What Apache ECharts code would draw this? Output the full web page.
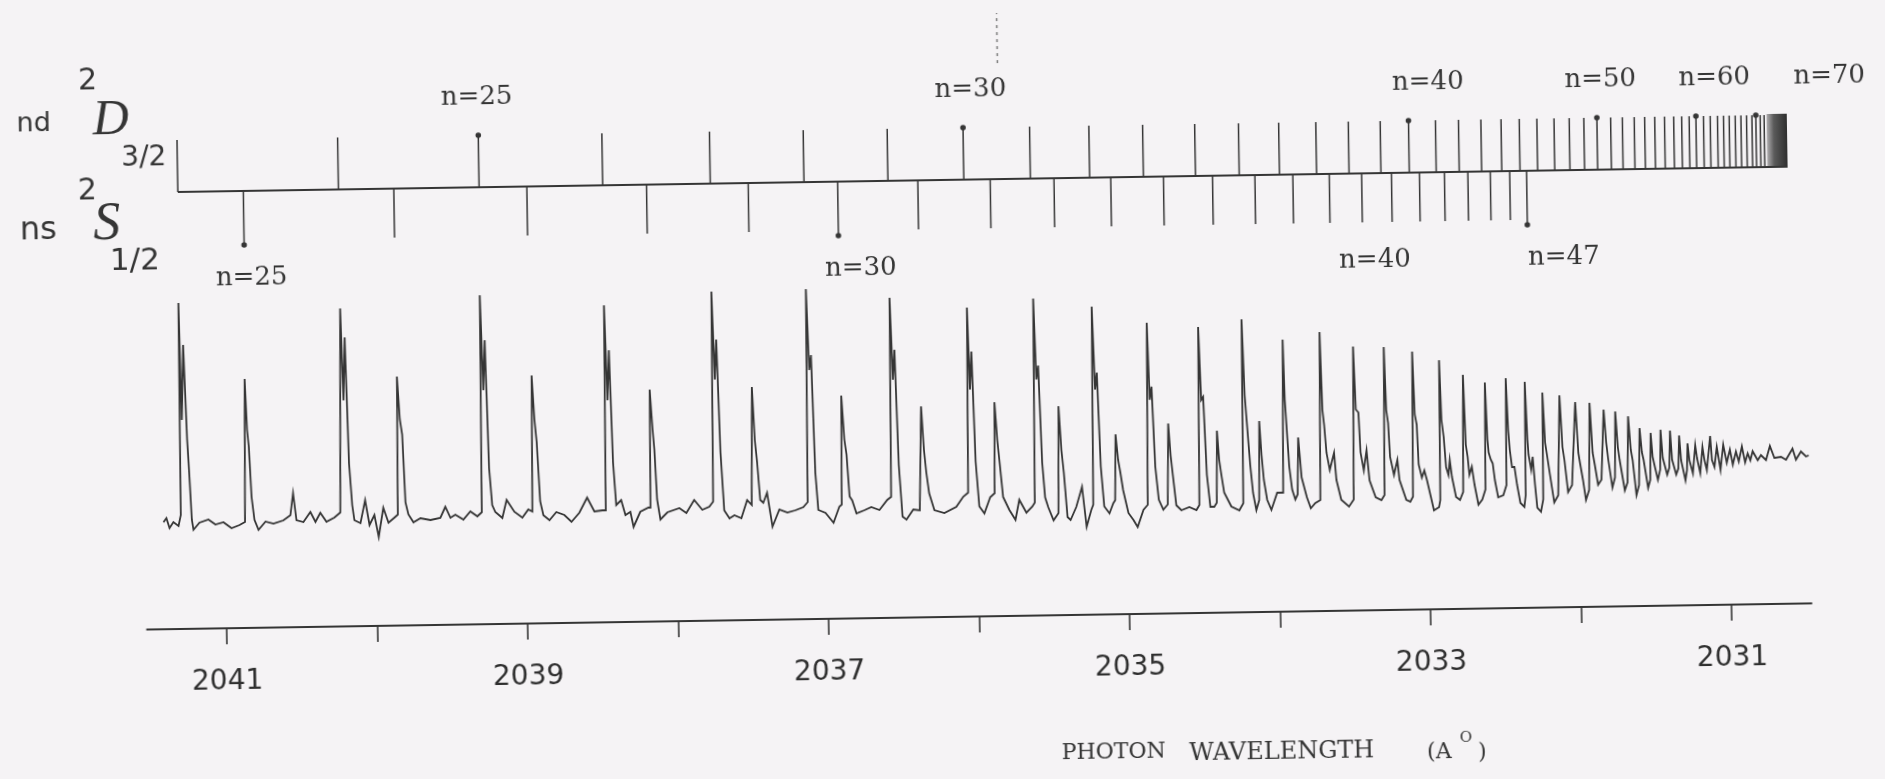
<!DOCTYPE html>
<html>
<head>
<meta charset="utf-8">
<script src="https://cdn.jsdelivr.net/npm/echarts@6/dist/echarts.min.js"></script>
<style>
html,body{margin:0;padding:0;background:#f5f3f5;overflow:hidden;}
#chart{width:1885px;height:779px;transform:rotate(-0.9deg);transform-origin:50% 50%;}
</style>
</head>
<body>
<div id="chart"></div>
<script>
// ---------------- data ----------------
// nd 2D3/2 Rydberg series: principal quantum number and line wavelength (Å)
const ndN = [23,24,25,26,27,28,29,30,31,32,33,34,35,36,37,38,39,40,41,42,43,44,45,46,47,48,49,50,
             51,52,53,54,55,56,57,58,59,60,61,62,63,64,65,66,67,68,69,70,71,72];
const ndWavelength = [2041.280,2040.213,2039.278,2038.457,2037.742,2037.119,2036.561,2036.057,2035.615,2035.221,
  2034.864,2034.518,2034.227,2033.960,2033.713,2033.497,2033.285,2033.097,2032.918,2032.765,
  2032.616,2032.482,2032.361,2032.244,2032.130,2032.029,2031.932,2031.845,2031.754,2031.676,
  2031.597,2031.528,2031.461,2031.396,2031.335,2031.282,2031.232,2031.187,2031.137,2031.092,
  2031.044,2031.004,2030.966,2030.926,2030.888,2030.851,2030.815,2030.789,2030.760,2030.734];
// unresolved tail of the nd series (start, end wavelength)
const ndTail = [2030.718, 2030.583];
const ndLabeled = [25,30,40,50,60,70];

// ns 2S1/2 Rydberg series
const nsN = [25,26,27,28,29,30,31,32,33,34,35,36,37,38,39,40,41,42,43,44,45,46,47];
const nsWavelength = [2040.845,2039.845,2038.961,2038.166,2037.490,2036.896,2036.363,2035.882,2035.458,2035.081,
  2034.731,2034.405,2034.123,2033.871,2033.629,2033.414,2033.216,2033.030,2032.864,2032.708,
  2032.559,2032.430,2032.318];
const nsLabeled = [25,30,40,47];

// dotted reference mark above the level diagram: wavelength, from, to
const referenceMark = [2035.822, 116, 166];

// axis ticks / labels (Å)
const axisTickValues = [2031,2032,2033,2034,2035,2036,2037,2038,2039,2040,2041];
const axisLabelValues = [2031,2033,2035,2037,2039,2041];

// photoion spectrum trace: [wavelength Å, signal (arb. units)]
const spectrum = [
[2041.410,107],[2041.390,111],[2041.370,101],[2041.344,107],[2041.310,103],[2041.294,114],[2041.288,326],[2041.277,209],[2041.261,284],[2041.244,189],[2041.234,157],[2041.221,109],[2041.211,99],[2041.171,106],[2041.111,109],[2041.065,104],[2041.011,106],[2040.958,100],[2040.905,103],[2040.868,106],
[2040.856,249],[2040.845,198],[2040.835,181],[2040.822,131],[2040.805,108],[2040.779,98],[2040.732,106],[2040.679,104],[2040.613,107],[2040.566,112],[2040.546,134],[2040.526,107],[2040.480,105],[2040.433,115],[2040.400,105],[2040.367,114],[2040.327,105],[2040.274,109],[2040.234,114],[2040.221,112],
[2040.214,318],[2040.201,226],[2040.187,289],[2040.171,163],[2040.154,121],[2040.141,106],[2040.101,103],[2040.068,126],[2040.041,101],[2040.008,111],[2039.981,89],[2039.948,118],[2039.915,103],[2039.875,108],[2039.852,111],
[2039.844,249],[2039.829,206],[2039.815,191],[2039.800,123],[2039.782,111],[2039.749,103],[2039.702,107],[2039.636,105],[2039.570,107],[2039.536,118],[2039.503,107],[2039.470,110],[2039.417,105],[2039.370,113],[2039.324,108],[2039.294,112],
[2039.285,329],[2039.271,234],[2039.257,284],[2039.241,156],[2039.224,119],[2039.204,112],[2039.158,106],[2039.128,124],[2039.078,112],[2039.025,106],[2038.985,114],[2038.958,112],
[2038.949,248],[2038.935,204],[2038.922,181],[2038.905,122],[2038.885,108],[2038.845,103],[2038.799,111],[2038.746,108],[2038.699,101],[2038.646,110],[2038.593,125],[2038.546,111],[2038.493,112],[2038.470,112],
[2038.461,317],[2038.447,222],[2038.433,272],[2038.417,160],[2038.400,117],[2038.367,122],[2038.340,107],[2038.307,110],[2038.287,95],[2038.241,110],[2038.187,114],[2038.173,114],
[2038.166,232],[2038.151,192],[2038.141,172],[2038.128,122],[2038.108,102],[2038.061,109],[2037.981,113],[2037.935,108],[2037.882,121],[2037.829,111],[2037.782,114],[2037.756,119],
[2037.746,329],[2037.732,241],[2037.719,281],[2037.702,168],[2037.683,110],[2037.649,102],[2037.616,105],[2037.570,102],[2037.530,120],[2037.500,115],
[2037.487,233],[2037.473,180],[2037.460,158],[2037.443,120],[2037.423,117],[2037.397,127],[2037.364,93],[2037.317,110],[2037.264,107],[2037.211,109],[2037.158,112],[2037.128,117],
[2037.118,330],[2037.104,249],[2037.091,264],[2037.074,146],[2037.058,109],[2037.011,106],[2036.958,96],[2036.918,112],[2036.902,114],
[2036.894,223],[2036.878,179],[2036.865,164],[2036.849,122],[2036.832,118],[2036.805,105],[2036.752,108],[2036.706,111],[2036.652,108],[2036.599,118],[2036.573,121],
[2036.563,320],[2036.549,238],[2036.536,268],[2036.519,153],[2036.499,101],[2036.473,98],[2036.427,108],[2036.384,107],
[2036.365,211],[2036.350,167],[2036.337,145],[2036.320,124],[2036.287,107],[2036.221,104],[2036.141,110],[2036.094,120],[2036.061,124],
[2036.050,309],[2036.038,227],[2036.025,265],[2036.008,155],[2035.988,110],[2035.955,103],[2035.915,119],[2035.885,123],
[2035.877,214],[2035.862,176],[2035.849,154],[2035.829,119],[2035.789,106],[2035.749,96],[2035.722,116],[2035.676,103],[2035.636,109],[2035.619,113],
[2035.609,317],[2035.596,236],[2035.583,250],[2035.566,153],[2035.550,118],[2035.530,108],[2035.496,95],[2035.463,102],
[2035.452,209],[2035.437,165],[2035.423,142],[2035.403,98],[2035.383,95],[2035.344,108],[2035.304,128],[2035.277,88],[2035.244,105],[2035.231,110],
[2035.221,308],[2035.207,225],[2035.194,242],[2035.177,148],[2035.158,108],[2035.124,101],[2035.098,111],[2035.085,114],
[2035.076,180],[2035.061,154],[2035.048,142],[2035.031,124],[2034.998,101],[2034.965,94],[2034.938,87],[2034.898,104],[2034.869,109],
[2034.857,291],[2034.845,214],[2034.832,227],[2034.815,147],[2034.795,114],[2034.766,104],[2034.736,109],
[2034.725,190],[2034.712,158],[2034.699,138],[2034.679,108],[2034.646,103],[2034.593,106],[2034.546,103],[2034.526,108],
[2034.516,286],[2034.503,213],[2034.490,216],[2034.473,138],[2034.453,106],[2034.427,106],[2034.410,110],
[2034.402,182],[2034.390,153],[2034.377,138],[2034.360,120],[2034.314,106],[2034.261,102],[2034.234,109],
[2034.227,293],[2034.214,217],[2034.201,215],[2034.184,147],[2034.168,119],[2034.148,102],[2034.128,112],
[2034.120,191],[2034.108,157],[2034.095,132],[2034.075,112],[2034.048,102],[2034.008,119],[2033.968,119],
[2033.956,272],[2033.948,212],[2033.939,214],[2033.925,145],[2033.908,122],[2033.888,112],[2033.872,117],
[2033.863,174],[2033.852,151],[2033.844,134],[2033.811,114],[2033.786,103],[2033.756,108],[2033.722,111],
[2033.710,279],[2033.699,201],[2033.689,186],[2033.676,158],[2033.656,141],[2033.626,158],[2033.613,131],[2033.583,111],[2033.532,104],[2033.500,111],
[2033.489,264],[2033.477,201],[2033.460,198],[2033.450,158],[2033.430,140],[2033.410,160],[2033.393,130],[2033.354,113],[2033.316,110],[2033.295,115],
[2033.285,263],[2033.275,200],[2033.264,187],[2033.254,153],[2033.230,135],[2033.206,150],[2033.194,130],[2033.151,110],[2033.124,108],[2033.106,113],
[2033.097,258],[2033.086,195],[2033.074,185],[2033.065,145],[2033.045,132],[2033.028,139],[2033.011,129],[2032.968,99],[2032.934,102],[2032.925,109],
[2032.919,249],[2032.909,189],[2032.896,172],[2032.883,142],[2032.868,134],[2032.858,149],[2032.845,132],[2032.820,112],[2032.794,109],[2032.772,117],
[2032.762,234],[2032.750,164],[2032.739,152],[2032.729,134],[2032.712,142],[2032.696,124],[2032.672,104],[2032.646,109],[2032.624,119],
[2032.617,226],[2032.606,169],[2032.599,156],[2032.586,149],[2032.573,145],[2032.560,128],[2032.540,111],[2032.506,113],[2032.484,123],
[2032.478,230],[2032.467,178],[2032.458,158],[2032.445,141],[2032.429,141],[2032.413,123],[2032.393,105],[2032.367,101],[2032.357,113],
[2032.352,226],[2032.340,168],[2032.334,153],[2032.318,138],[2032.307,151],[2032.294,123],[2032.281,100],[2032.257,96],[2032.241,108],
[2032.236,215],[2032.223,165],[2032.212,153],[2032.194,133],[2032.168,105],[2032.141,112],
[2032.123,212],[2032.108,160],[2032.096,147],[2032.075,115],[2032.048,122],
[2032.019,205],[2032.003,154],[2031.993,144],[2031.975,127],[2031.957,107],[2031.935,117],
[2031.924,204],[2031.908,154],[2031.895,142],[2031.875,122],[2031.852,127],
[2031.831,197],[2031.817,164],[2031.805,147],[2031.780,119],[2031.762,129],
[2031.754,195],[2031.740,159],[2031.729,146],[2031.698,116],[2031.679,124],
[2031.669,190],[2031.654,156],[2031.643,146],[2031.621,111],[2031.603,121],
[2031.594,178],[2031.581,154],[2031.570,146],[2031.543,118],[2031.528,126],
[2031.521,173],[2031.510,149],[2031.496,139],[2031.477,126],[2031.461,136],
[2031.455,176],[2031.443,148],[2031.415,131],[2031.400,138],
[2031.392,175],[2031.381,146],[2031.355,131],[2031.340,137],
[2031.332,170],[2031.321,145],[2031.294,125],[2031.283,135],
[2031.277,162],[2031.266,145],[2031.244,132],
[2031.226,160],[2031.215,147],[2031.195,132],
[2031.178,158],[2031.166,145],[2031.151,135],
[2031.126,169],[2031.116,145],[2031.100,138],[2031.083,158],[2031.060,135],[2031.040,160],[2031.018,142],[2030.996,155],[2030.978,140],
[2030.956,153],[2030.938,143],[2030.916,158],[2030.896,142],[2030.878,151],[2030.861,144],[2030.845,153],[2030.812,144],[2030.790,149],
[2030.757,144],[2030.730,158],[2030.701,146],[2030.657,147],[2030.624,144],[2030.580,155],[2030.558,144],[2030.524,152],[2030.491,147],[2030.473,148]
];

// ---------------- drawing ----------------
const INK = '#353535';
const chart = echarts.init(document.getElementById('chart'), null, {renderer: 'canvas', width: 1885, height: 779});

const ndData = ndN.map((n, i) => [ndWavelength[i], n]);
const nsData = nsN.map((n, i) => [nsWavelength[i], n]);
const labelNudge = {nd: {25: -1, 30: 8, 40: 20, 50: 4, 60: 19, 70: 74}, ns: {25: 7, 30: 22, 40: 12, 47: 36}};
const dotted = {nd: [25, 30, 40, 50, 60, 70], ns: [25, 30, 47]};

function makeTicks(kind) {
  const up = kind === 'nd';
  const labeled = up ? ndLabeled : nsLabeled;
  return function (params, api) {
    const lam = api.value(0), n = api.value(1);
    const hasDot = dotted[kind].indexOf(n) >= 0;
    const len = up ? 52 : (hasDot ? 54 : 49);
    const a = api.coord([lam, 0]);
    const b = api.coord([lam, up ? len : -len]);
    const ch = [{type: 'line', shape: {x1: a[0], y1: a[1], x2: b[0], y2: b[1]}, style: {stroke: INK, lineWidth: 1.5}}];
    if (hasDot) ch.push({type: 'circle', shape: {cx: b[0], cy: b[1], r: 2.8}, style: {fill: INK}});
    if (labeled.indexOf(n) >= 0) {
      const c = api.coord([lam, up ? 90 : -87]);
      ch.push({type: 'text', x: c[0] + (labelNudge[kind][n] || 0), y: c[1],
        style: {text: 'n=' + n, font: '26px "DejaVu Serif"', fill: INK, align: 'center', verticalAlign: 'middle'}});
    }
    return {type: 'group', children: ch};
  };
}

const xMin = 2030.47, xMax = 2041.53;
const gridLeft = 143.4, gridRight = 77;

function txt(x, y, text, font, align) {
  return {type: 'text', x: x, y: y, silent: true,
    style: {text: text, font: font, fill: INK, align: align || 'center', verticalAlign: 'middle'}};
}

const option = {
  animation: false,
  backgroundColor: 'transparent',
  grid: [
    {left: gridLeft, right: gridRight, top: 217, bottom: 162},
    {left: gridLeft, right: gridRight, top: 10, height: 230}
  ],
  xAxis: [
    {type: 'value', gridIndex: 0, min: xMin, max: xMax, inverse: true,
      axisLine: {show: true, onZero: false, lineStyle: {color: INK, width: 2}},
      axisTick: {show: true, customValues: axisTickValues, length: 16, lineStyle: {color: INK, width: 1.6}},
      axisLabel: {show: true, customValues: axisLabelValues, margin: 40, fontSize: 28, lineHeight: 28,
        fontFamily: '"DejaVu Sans", sans-serif', color: '#2f2f2f',
        formatter: v => String(Math.round(v))},
      splitLine: {show: false}},
    {type: 'value', gridIndex: 1, min: xMin, max: xMax, inverse: true, show: false}
  ],
  yAxis: [
    {type: 'value', gridIndex: 0, min: 0, max: 400, show: false},
    {type: 'value', gridIndex: 1, min: -60, max: 170, show: false}
  ],
  series: [
    {type: 'line', xAxisIndex: 0, yAxisIndex: 0, data: spectrum, symbol: 'none', silent: true,
      lineStyle: {color: INK, width: 1.8, join: 'miter'}},
    {type: 'line', xAxisIndex: 1, yAxisIndex: 1, data: [[ndWavelength[0], 0], [ndTail[1], 0]],
      symbol: 'none', silent: true, lineStyle: {color: INK, width: 2}},
    {type: 'custom', xAxisIndex: 1, yAxisIndex: 1, data: ndData, renderItem: makeTicks('nd'), clip: false, silent: true},
    {type: 'custom', xAxisIndex: 1, yAxisIndex: 1, data: nsData, renderItem: makeTicks('ns'), clip: false, silent: true},
    {type: 'custom', xAxisIndex: 1, yAxisIndex: 1, data: [ndTail], encode: {x: [0, 1]}, clip: false, silent: true,
      renderItem: function (params, api) {
        const a = api.coord([api.value(0), 0]);
        const b = api.coord([api.value(1), 53]);
        return {type: 'rect', shape: {x: a[0], y: b[1], width: b[0] - a[0], height: a[1] - b[1]},
          style: {fill: new echarts.graphic.LinearGradient(0, 0, 1, 0, [
            {offset: 0, color: '#b0aeb0'}, {offset: 0.35, color: '#5a5a5a'}, {offset: 1, color: '#2e2e2e'}])}};
      }},
    {type: 'line', xAxisIndex: 1, yAxisIndex: 1,
      data: [[referenceMark[0], referenceMark[1]], [referenceMark[0], referenceMark[2]]],
      symbol: 'none', silent: true, lineStyle: {color: '#7a7a7a', width: 1.5, type: [3, 4]}}
  ],
  graphic: [
    txt(38, 109.5, 'nd', '27px "DejaVu Sans"'),
    txt(92.5, 68, '2', '30px "DejaVu Sans"'),
    txt(97, 108, 'D', 'italic 50px "Liberation Serif"', 'left'),
    txt(147.6, 146.2, '3/2', '28px "DejaVu Sans"'),
    txt(41, 216.7, 'ns', '32px "DejaVu Sans"'),
    txt(90.5, 178.2, '2', '30px "DejaVu Sans"'),
    txt(96, 211.8, 'S', 'italic 54px "Liberation Serif"', 'left'),
    txt(137, 249, '1/2', '31px "DejaVu Sans"'),
    txt(1108, 755.2, 'PHOTON', '22px "DejaVu Serif"'),
    txt(1276, 757.8, 'WAVELENGTH', '24px "DejaVu Serif"'),
    txt(1421.3, 760.1, '(A', '22px "DejaVu Serif"', 'left'),
    txt(1460.5, 746.2, 'O', '15px "DejaVu Serif"'),
    txt(1472.3, 760.9, ')', '22px "DejaVu Serif"', 'left')
  ]
};
chart.setOption(option);
</script>
</body>
</html>
